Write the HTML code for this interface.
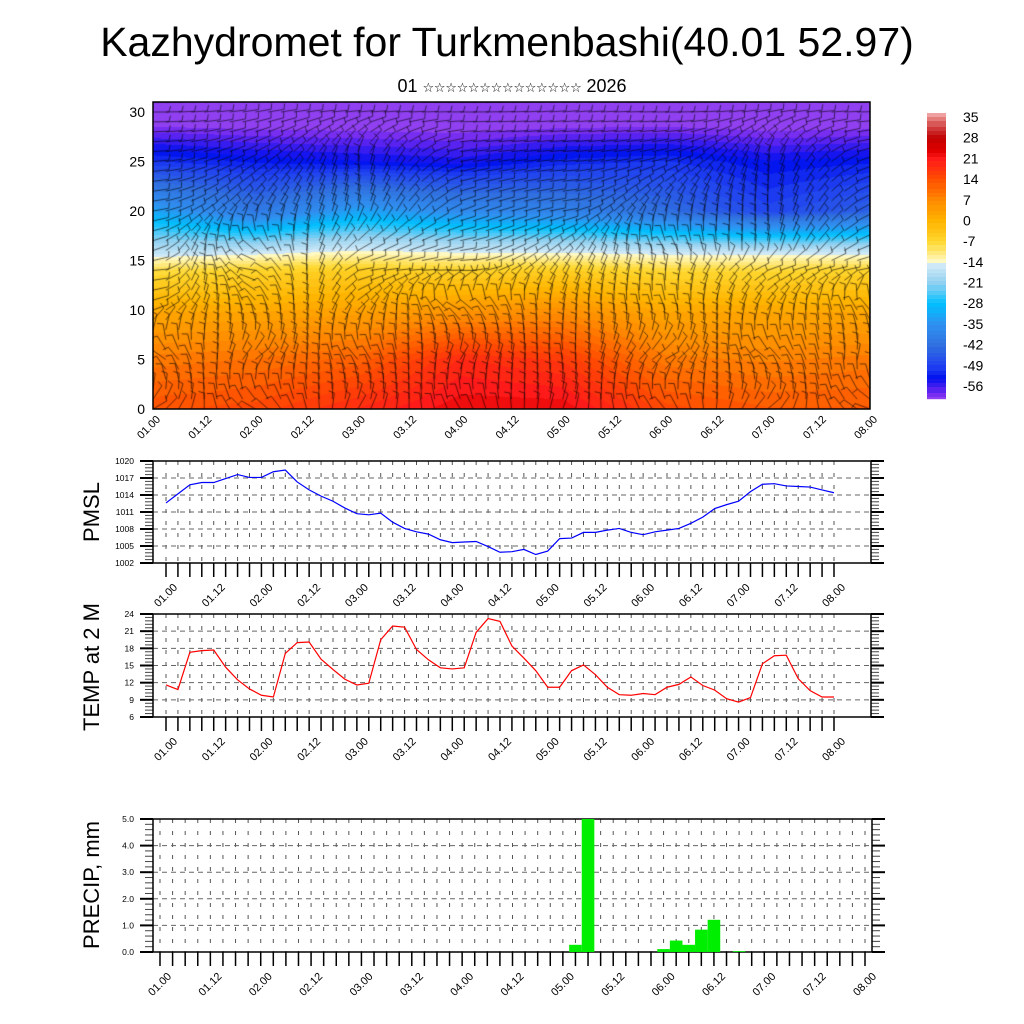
<!DOCTYPE html>
<html><head><meta charset="utf-8">
<style>
html,body{margin:0;padding:0;background:#fff;}
#wrap{position:relative;width:1024px;height:1024px;overflow:hidden;font-family:"Liberation Sans",sans-serif;}
#field{position:absolute;left:153px;top:102px;}
#svg{position:absolute;left:0;top:0;}
</style></head>
<body>
<div id="wrap">
<canvas id="field" width="717" height="307"></canvas>
<svg id="svg" width="1024" height="1024" xmlns="http://www.w3.org/2000/svg">
<text x="507" y="56" font-size="41" text-anchor="middle" font-family="Liberation Sans, sans-serif">Kazhydromet for Turkmenbashi(40.01 52.97)</text>
<text x="512" y="92" font-size="18" text-anchor="middle" font-family="Liberation Sans, 'DejaVu Sans', sans-serif">01 <tspan font-size="13" font-family="DejaVu Sans, sans-serif" letter-spacing="-0.3">☆☆☆☆☆☆☆☆☆☆☆☆☆☆</tspan> 2026</text>
</svg>
</div>
<script>
// ---- data ----
const timeLabels=["01.00","01.12","02.00","02.12","03.00","03.12","04.00","04.12","05.00","05.12","06.00","06.12","07.00","07.12","08.00"];
const pmsl=[1012.6,1014.2,1015.8,1016.2,1016.2,1016.9,1017.6,1017.1,1017.1,1018.1,1018.4,1016.3,1014.9,1013.8,1012.9,1011.7,1010.7,1010.5,1010.8,1009.2,1008.1,1007.5,1007.1,1006.1,1005.6,1005.7,1005.8,1004.9,1003.9,1004.0,1004.4,1003.5,1004.1,1006.3,1006.4,1007.4,1007.4,1007.8,1008.1,1007.4,1007.0,1007.5,1007.8,1008.1,1009.0,1010.1,1011.6,1012.3,1012.9,1014.6,1015.9,1016.0,1015.6,1015.5,1015.4,1014.9,1014.4];
const temp2m=[11.6,10.8,17.3,17.6,17.7,14.7,12.5,10.9,9.8,9.5,17.1,19.0,19.1,16.1,14.3,12.6,11.6,11.9,19.5,21.9,21.7,17.8,16.0,14.6,14.4,14.6,20.8,23.2,22.7,18.4,16.3,14.1,11.2,11.2,14.1,15.1,13.4,11.2,9.9,9.8,10.1,9.9,11.2,11.7,13.0,11.5,10.7,9.2,8.6,9.4,15.3,16.7,16.8,12.7,10.6,9.5,9.5];
const precipIndex=[33,34,40,41,42,43,44,46];
const precipValues=[0.27,5.0,0.11,0.43,0.27,0.84,1.21,0.03];
const pmslTicks=[1002,1005,1008,1011,1014,1017,1020];
const tempTicks=[6,9,12,15,18,21,24];
const precipTicks=["0.0","1.0","2.0","3.0","4.0","5.0"];
const heightTicks=[0,5,10,15,20,25,30];
const cbarLabels=[35,28,21,14,7,0,-7,-14,-21,-28,-35,-42,-49,-56];
// field grid: heights (km) x days 0..7
const fieldHeights=[0,5,10,14,16,20,25,30];
const fieldT=[
 [14,15,19,23,23,15,13,13],
 [9,10,12,19,17,9,8,9],
 [2,2,3,5,6,2,2,2],
 [-8,-6,-5,-6,-5,-7,-7,-6],
 [-17,-16,-14,-15,-15,-16,-16,-16],
 [-32,-40,-32,-36,-38,-42,-48,-44],
 [-50,-52,-53,-54,-51,-50,-53,-52],
 [-63,-63,-63,-63,-63,-63,-63,-63]];
const fieldDir=[
 [30,150,60,120,70,130,40,160],
 [160,40,130,60,100,30,140,70],
 [20,120,45,150,80,110,60,130],
 [5,170,10,0,60,80,20,10],
 [20,140,30,10,40,120,80,15],
 [10,60,80,20,10,70,90,20],
 [5,30,85,10,5,15,80,10],
 [0,10,5,0,5,0,10,0]];

const NS="http://www.w3.org/2000/svg";
const svg=document.getElementById('svg');
function mk(tag,attrs,parent){const e=document.createElementNS(NS,tag);for(const k in attrs)e.setAttribute(k,attrs[k]);(parent||svg).appendChild(e);return e;}

// ---- colormap ----
const cstops=[[37,[248,184,184]],[32,[208,64,64]],[28,[192,0,0]],[24,[224,0,0]],[21,[255,26,26]],[14,[255,80,0]],[7,[255,138,0]],[0,[255,180,0]],[-7,[255,216,48]],[-13.5,[255,248,192]],[-14,[216,236,248]],[-21,[144,208,240]],[-28,[0,192,255]],[-35,[48,144,240]],[-42,[48,112,224]],[-49,[32,64,240]],[-53,[0,16,240]],[-58,[110,40,240]],[-60,[144,64,240]]];
function cmap(t){
 if(t>=cstops[0][0])return cstops[0][1];
 for(let i=1;i<cstops.length;i++){if(t>=cstops[i][0]){const a=cstops[i-1],b=cstops[i];const f=(a[0]-t)/(a[0]-b[0]);return a[1].map((v,k)=>Math.round(v+(b[1][k]-v)*f));}}
 return cstops[cstops.length-1][1];
}
function interp(grid,day,h){
 let r=0;while(r<fieldHeights.length-2&&h>fieldHeights[r+1])r++;
 const fh=Math.max(0,Math.min(1,(h-fieldHeights[r])/(fieldHeights[r+1]-fieldHeights[r])));
 let c=Math.min(6,Math.floor(day));const fc=Math.max(0,Math.min(1,day-c));
 const a=grid[r][c]*(1-fc)+grid[r][c+1]*fc,b=grid[r+1][c]*(1-fc)+grid[r+1][c+1]*fc;
 return a*(1-fh)+b*fh;
}
// ---- top field ----
const FX0=153,FX1=870,FY0=102,FY1=409;
const hY=h=>409-h*9.9, dX=d=>153+d*(717/7);
const cv=document.getElementById('field'),ctx=cv.getContext('2d');
const img=ctx.createImageData(717,307);
for(let y=0;y<307;y++){const h=(307-y)/9.9;for(let x=0;x<717;x++){const d=x/(717/7);let t=interp(fieldT,d,h);t=Math.round(t/1.5)*1.5;const c=cmap(t);const p=(y*717+x)*4;img.data[p]=c[0];img.data[p+1]=c[1];img.data[p+2]=c[2];img.data[p+3]=255;}}
ctx.putImageData(img,0,0);
ctx.strokeStyle='rgba(0,0,0,0.85)';ctx.lineWidth=0.7;
for(let i=0;i<57;i++){for(let j=0;j<=31;j++){const d=i/8,h=j;const x=dX(d)-FX0,y=hY(h)-FY0;const ang=interp(fieldDir,d,h+0.01)*Math.PI/180;const L=16;const ex=x+Math.cos(ang)*L,ey=y-Math.sin(ang)*L;ctx.beginPath();ctx.moveTo(x,y);ctx.lineTo(ex,ey);const a2=ang+Math.PI/2.4;ctx.moveTo(ex,ey);ctx.lineTo(ex+Math.cos(a2)*6,ey-Math.sin(a2)*6);ctx.stroke();}}
const topFrame=mk('rect',{x:FX0,y:FY0,width:717,height:307,fill:'none',stroke:'#000','stroke-width':1.5});


heightTicks.forEach(h=>{const t=mk('text',{x:145,y:hY(h)+5,'font-size':14,'text-anchor':'end'});t.textContent=h;
 
 });
timeLabels.forEach((l,k)=>{const x=FX0+k*717/14;const t=mk('text',{x:x+8,y:420,'font-size':11,'text-anchor':'end',transform:`rotate(-45 ${x+8} 420)`});t.textContent=l;
 
 });

// ---- colorbar ----
const CB0=113,CB1=398;
for(let y=CB0;y<CB1;y+=2){const f=(y-CB0)/(CB1-CB0);const t=36.35-96.4*f;const c=cmap(Math.round(t/1.5)*1.5);const r=mk('rect',{x:927,y:y,width:19,height:2.2,fill:`rgb(${c[0]},${c[1]},${c[2]})`});
 
 }
cbarLabels.forEach(v=>{const f=(36.35-v)/96.4;const y=CB0+f*(CB1-CB0);const t=mk('text',{x:963,y:y+5,'font-size':14});t.textContent=v;
 
 });

// ---- line panels ----
function panel(name,top,bot,x0,x1,tx0,tstep,ymin,ymax,ticks,fmt,title,titleY){
 const g=mk('g',{});
 
 
 const Y=v=>bot-(v-ymin)/(ymax-ymin)*(bot-top);
 for(let i=0;i<57;i++){const x=tx0+i*tstep;mk('line',{x1:x,x2:x,y1:top,y2:bot,stroke:'#555','stroke-width':1,'stroke-dasharray':'4 8'},g);}
 ticks.forEach((v,k)=>{const val=typeof v==='string'?parseFloat(v):v;const y=Y(val);
  if(k>0&&k<ticks.length-1)mk('line',{x1:x0,x2:x1,y1:y,y2:y,stroke:'#666','stroke-width':1,'stroke-dasharray':'5 4'},g);
  mk('line',{x1:x0-13,x2:x0,y1:y,y2:y,stroke:'#000','stroke-width':2},g);
  mk('line',{x1:x1,x2:x1+13,y1:y,y2:y,stroke:'#000','stroke-width':2},g);
  const t=mk('text',{x:x0-19,y:y+3,'font-size':8.5,'text-anchor':'end'},g);t.textContent=fmt(v);
  
  
  if(k<ticks.length-1){for(let m=1;m<5;m++){const yy=y-(m/5)*(bot-top)/(ticks.length-1);mk('line',{x1:x0-8,x2:x0,y1:yy,y2:yy,stroke:'#444','stroke-width':1},g);mk('line',{x1:x1,x2:x1+8,y1:yy,y2:yy,stroke:'#444','stroke-width':1},g);}}
 });
 for(let i=0;i<57;i++){const x=tx0+i*tstep;mk('line',{x1:x,x2:x,y1:bot,y2:bot+14,stroke:'#000','stroke-width':1.5},g);}
 timeLabels.forEach((l,k)=>{const x=tx0+k*4*tstep+12;const y=bot+25;const t=mk('text',{x:x,y:y,'font-size':11,'text-anchor':'end',transform:`rotate(-45 ${x} ${y})`},g);t.textContent=l;
  
  });
 const fr=mk('rect',{x:x0,y:top,width:x1-x0,height:bot-top,fill:'none',stroke:'#000','stroke-width':1.5},g);
 
 
 const tt=mk('text',{x:0,y:0,'font-size':22,'text-anchor':'middle',transform:`translate(99 ${titleY}) rotate(-90)`},g);tt.textContent=title;
 
 
 return {g,Y};
}
const P=panel('pmsl',461,563,153,871,166,(834-166)/56,1002,1020,pmslTicks,v=>v,'PMSL',512);
const pp=mk('polyline',{points:pmsl.map((v,i)=>`${166+i*(834-166)/56},${P.Y(v)}`).join(' '),fill:'none',stroke:'#0000ff','stroke-width':1.2},P.g);


const T=panel('temp',614,717,153,871,166,(834-166)/56,6,24,tempTicks,v=>v,'TEMP at 2 M',667);
const tp=mk('polyline',{points:temp2m.map((v,i)=>`${166+i*(834-166)/56},${T.Y(v)}`).join(' '),fill:'none',stroke:'#ff0000','stroke-width':1.2},T.g);


const PRS=(865-160)/56;
const R=panel('precip',819,952,153,872,160,PRS,0,5,precipTicks,v=>v,'PRECIP, mm',885);
precipIndex.forEach((idx,k)=>{const x=160+(idx-0.5)*PRS;const y=R.Y(Math.min(5,precipValues[k]));const b=mk('rect',{x:x,y:y,width:PRS,height:952-y,fill:'#00ee00'},R.g);
 
 });
</script>
</body></html>
